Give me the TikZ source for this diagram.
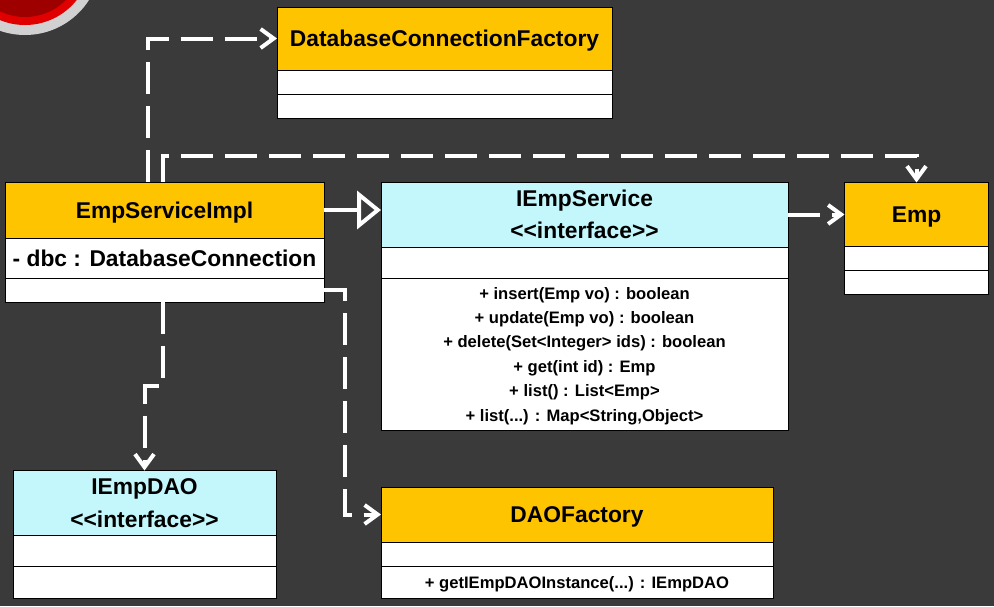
\documentclass[tikz,border=0pt]{standalone}
\usepackage{fontspec}
\setmainfont{Liberation Sans}
\usetikzlibrary{arrows.meta}
\definecolor{slatebg}{HTML}{3A3A3A}
\definecolor{headgold}{HTML}{FFC400}
\definecolor{ifacecyan}{HTML}{C4F7FB}
\tikzset{
  classbox/.style={draw=black, line width=1pt, inner sep=0pt, outer sep=0pt, align=center, font=\bfseries},
  headbox/.style={classbox, fill=headgold},
  ifacebox/.style={classbox, fill=ifacecyan},
  bodybox/.style={classbox, fill=white},
  titletext/.style={font=\bfseries\fontsize{22.8}{32.5}\selectfont},
  membertext/.style={font=\bfseries\fontsize{16.6}{24.4}\selectfont, text depth=0pt},
  deplink/.style={draw=white, line width=4pt, dash pattern=on 32pt off 12pt, -{Straight Barb[length=13pt,width=19pt,line width=4pt]}},
  implink/.style={draw=white, line width=4pt, -{Triangle[open,length=24pt,width=38pt,line width=4pt]}}
}
\begin{document}
\begin{tikzpicture}[x=1pt,y=-1pt]
\useasboundingbox (0,0) rectangle (994,606);
\fill[slatebg] (0,0) rectangle (994,606);

\begin{scope}
\clip (0,0) rectangle (994,606);
\fill[black!18] (25,-41) circle (76);
\fill[red!88!black] (25,-41) circle (66);
\fill[red!62!black] (25,-41) circle (58);
\end{scope}

\node[headbox, titletext, text depth=0pt, minimum width=335, minimum height=63] (dbchead) at (444.5,38.5) {DatabaseConnectionFactory};
\node[bodybox, minimum width=335, minimum height=24] (dbcattr) at (444.5,82) {};
\node[bodybox, minimum width=335, minimum height=24] (dbcops) at (444.5,106) {};

\node[headbox, titletext, text depth=0pt, minimum width=319, minimum height=56] (implhead) at (164.5,210) {EmpServiceImpl};
\node[bodybox, titletext, minimum width=319, minimum height=40] (implattr) at (164.5,258) {- dbc : DatabaseConnection};
\node[bodybox, minimum width=319, minimum height=24] (implops) at (164.5,290) {};

\node[ifacebox, titletext, minimum width=407, minimum height=65] (svchead) at (584.5,214.5) {IEmpService\\<{}<interface>{}>};
\node[bodybox, minimum width=407, minimum height=31] (svcattr) at (584.5,262.5) {};
\node[bodybox, membertext, minimum width=407, minimum height=152] (svcops) at (584.5,354)
{+ insert(Emp vo) : boolean\\
+ update(Emp vo) : boolean\\
+ delete(Set<Integer> ids) : boolean\\
+ get(int id) : Emp\\
+ list() : List<Emp>\\
+ list(...) : Map<String,Object>};

\node[headbox, titletext, text depth=0pt, minimum width=144, minimum height=64] (emphead) at (916.5,214.5) {Emp};
\node[bodybox, minimum width=144, minimum height=24] (empattr) at (916.5,258.5) {};
\node[bodybox, minimum width=144, minimum height=24] (empops) at (916.5,282.5) {};

\node[ifacebox, titletext, minimum width=263, minimum height=65] (daohead) at (144.5,503) {IEmpDAO\\<{}<interface>{}>};
\node[bodybox, minimum width=263, minimum height=31] (daoattr) at (144.5,551) {};
\node[bodybox, minimum width=263, minimum height=32] (daoops) at (144.5,582) {};

\node[headbox, titletext, text depth=0pt, minimum width=392, minimum height=55] (facthead) at (577,514.5) {DAOFactory};
\node[bodybox, minimum width=392, minimum height=24] (factattr) at (577,554) {};
\node[bodybox, membertext, minimum width=392, minimum height=32] (factops) at (577,582) {+ getIEmpDAOInstance(...) : IEmpDAO};

\coordinate (dbclane) at (148,100);
\coordinate (emplane) at (163,156);
\coordinate (daolane) at (163,386);
\coordinate (factlane) at (345,400);

\draw[deplink] (implhead.north -| dbclane) |- (dbchead.west);
\draw[deplink] (implhead.north -| emplane) -- (emplane) -| (emphead.north);
\draw[implink] (implhead.east) -- (svchead.west |- implhead.east);
\draw[deplink] (svchead.east) -- (emphead.west);
\draw[deplink] (implops.south -| daolane) -- (daolane) -| (daohead.north);
\draw[deplink] (implops.east) -| (factlane) |- (facthead.west);
\end{tikzpicture}
\end{document}
